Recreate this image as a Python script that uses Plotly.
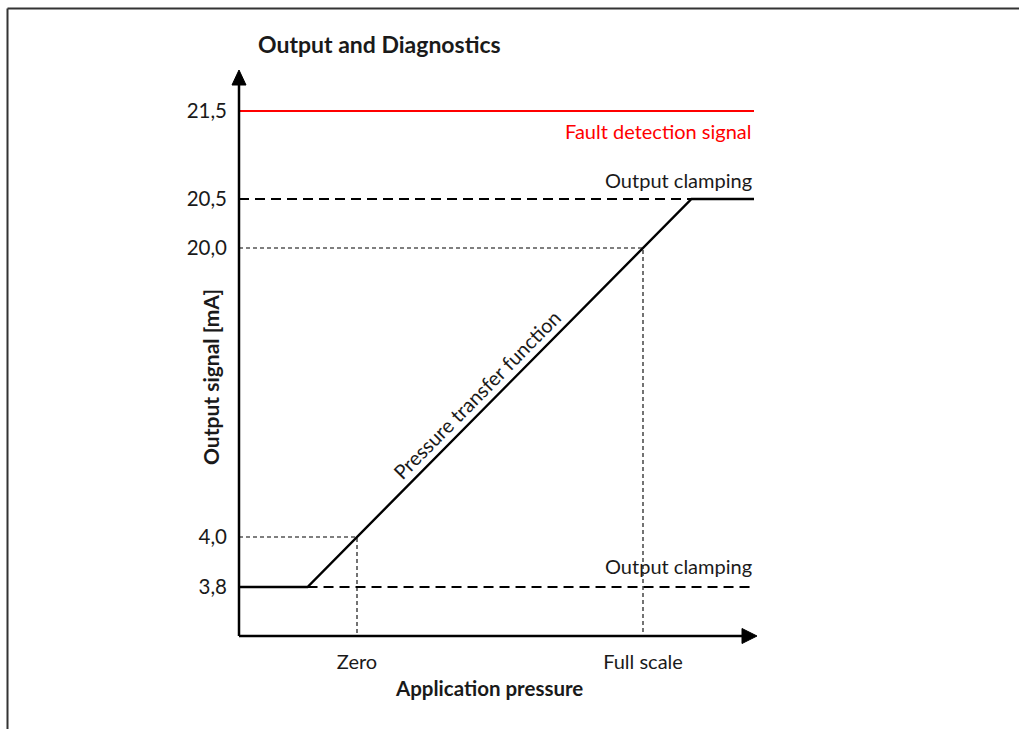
import math
import numpy as np
import plotly.graph_objects as go

# ---------------- data ----------------
levels_mA = [3.8, 4.0, 20.0, 20.5, 21.5]
level_labels = ["3,8", "4,0", "20,0", "20,5", "21,5"]
pressure_labels = ["Zero", "Full scale"]
zero_mA = 4.0
full_mA = 20.0
clamp_low_mA = 3.8
clamp_high_mA = 20.5
fault_mA = 21.5

# ---------------- schematic layout (screen-like units, 1 unit = 1 px) ----------------
level_pos = [49, 99, 388, 437, 525]      # vertical placement of each mA level
pressure_pos = [118, 404]                # horizontal placement of Zero / Full scale
x_axis_end = 518
y_axis_end = 566
line_end = 515

W, H = 1019, 729
X0_PX, Y0_PX = 239, 636                  # pixel position of axis origin
XR = [-10, 530]
YR = [-10, 580]


def ypos(v):
    return float(np.interp(v, levels_mA, level_pos))


y_zero = ypos(zero_mA)
y_full = ypos(full_mA)
y_low = ypos(clamp_low_mA)
y_high = ypos(clamp_high_mA)
y_fault = ypos(fault_mA)
x_zero, x_full = pressure_pos
slope = (y_full - y_zero) / (x_full - x_zero)
x_low = x_zero - (y_zero - y_low) / slope
x_high = x_full + (y_high - y_full) / slope

INK = "#1a1a1a"
FONT = "Lato"
FS = 20

fig = go.Figure()

# thin dotted guide lines
guide = dict(color="#000000", width=1.1, dash="4px,3px")
fig.add_trace(go.Scatter(x=[0, x_zero, x_zero], y=[y_zero, y_zero, 0], mode="lines", line=guide))
fig.add_trace(go.Scatter(x=[0, x_full, x_full], y=[y_full, y_full, 0], mode="lines", line=guide))

# dashed clamping levels
clamp = dict(color="black", width=2.2, dash="10px,6px")
fig.add_trace(go.Scatter(x=[0, line_end], y=[y_high, y_high], mode="lines", line=clamp))
fig.add_trace(go.Scatter(x=[x_low, line_end], y=[y_low, y_low], mode="lines", line=clamp))

# fault detection signal
fig.add_trace(go.Scatter(x=[0, line_end], y=[y_fault, y_fault], mode="lines",
                         line=dict(color="#ff0000", width=2)))

# pressure transfer function
fig.add_trace(go.Scatter(x=[0, x_low, x_high, line_end], y=[y_low, y_low, y_high, y_high],
                         mode="lines", line=dict(color="black", width=2.4)))

# axes with arrows
fig.add_trace(go.Scatter(x=[0, x_axis_end - 8], y=[0, 0], mode="lines", line=dict(color="black", width=2.5)))
fig.add_trace(go.Scatter(x=[0, 0], y=[0, y_axis_end - 8], mode="lines", line=dict(color="black", width=2.5)))
fig.add_trace(go.Scatter(x=[x_axis_end - 15, x_axis_end, x_axis_end - 15, x_axis_end - 15],
                         y=[7.5, 0, -7.5, 7.5], mode="lines", fill="toself",
                         fillcolor="black", line=dict(color="black", width=1)))
fig.add_trace(go.Scatter(x=[-7, 0, 7, -7], y=[y_axis_end - 15, y_axis_end, y_axis_end - 15, y_axis_end - 15],
                         mode="lines", fill="toself", fillcolor="black",
                         line=dict(color="black", width=1)))

fig.update_traces(hoverinfo="skip", showlegend=False)

annotations = [
    dict(x=line_end, y=y_fault - 20, xref="x", yref="y", text="Fault detection signal",
         xanchor="right", yanchor="middle", showarrow=False, font=dict(color="#ff0000", size=FS, family=FONT)),
    dict(x=line_end, y=y_high + 19, xref="x", yref="y", text="Output clamping",
         xanchor="right", yanchor="middle", showarrow=False, font=dict(color=INK, size=FS, family=FONT)),
    dict(x=line_end, y=y_low + 21, xref="x", yref="y", text="Output clamping",
         xanchor="right", yanchor="middle", showarrow=False, font=dict(color=INK, size=FS, family=FONT)),
    dict(x=248, y=y_zero + (248 - x_zero) * slope, xref="x", yref="y", text="Pressure transfer function",
         textangle=-math.degrees(math.atan(slope)), xshift=-11, yshift=11,
         xanchor="center", yanchor="middle", showarrow=False, font=dict(color=INK, size=FS, family=FONT)),
    dict(x=256 / W, y=1 - 44 / H, xref="paper", yref="paper", text="<b>Output and Diagnostics</b>",
         xanchor="left", yanchor="middle", showarrow=False, font=dict(color=INK, size=23, family=FONT)),
    dict(x=489 / W, y=1 - 688 / H, xref="paper", yref="paper", text="<b>Application pressure</b>",
         xanchor="center", yanchor="middle", showarrow=False, font=dict(color=INK, size=20.5, family=FONT)),
    dict(x=210 / W, y=1 - 377 / H, xref="paper", yref="paper", text="<b>Output signal [mA]</b>",
         textangle=-90, xanchor="center", yanchor="middle", showarrow=False,
         font=dict(color=INK, size=21, family=FONT)),
]

shapes = [
    dict(type="line", xref="paper", yref="paper", x0=7.5 / W, x1=1.01, y0=1 - 8.5 / H, y1=1 - 8.5 / H,
         line=dict(color="#333333", width=2)),
    dict(type="line", xref="paper", yref="paper", x0=7.5 / W, x1=7.5 / W, y0=1 - 8.5 / H, y1=-0.01,
         line=dict(color="#333333", width=2)),
]

x_px0 = X0_PX + XR[0]
x_px1 = X0_PX + XR[1]
y_px_bottom = Y0_PX - YR[0]
y_px_top = Y0_PX - YR[1]

fig.update_layout(
    width=W, height=H,
    margin=dict(l=0, r=0, t=0, b=0),
    paper_bgcolor="white", plot_bgcolor="white",
    font=dict(family=FONT, color=INK, size=FS),
    xaxis=dict(domain=[x_px0 / W, x_px1 / W], range=XR, showgrid=False, zeroline=False,
               showline=False, tickvals=pressure_pos, ticktext=pressure_labels,
               ticks="", ticklabelstandoff=2, tickfont=dict(size=FS, color=INK), fixedrange=True),
    yaxis=dict(domain=[1 - y_px_bottom / H, 1 - y_px_top / H], range=YR, showgrid=False, zeroline=False,
               showline=False, tickvals=level_pos, ticktext=level_labels,
               ticks="", ticklabelstandoff=1, tickfont=dict(size=20.5, color=INK), fixedrange=True),
    annotations=annotations,
    shapes=shapes,
    showlegend=False,
)

fig.write_html("out.html", config={"displayModeBar": False},
               post_script="document.body.style.margin='0';")
